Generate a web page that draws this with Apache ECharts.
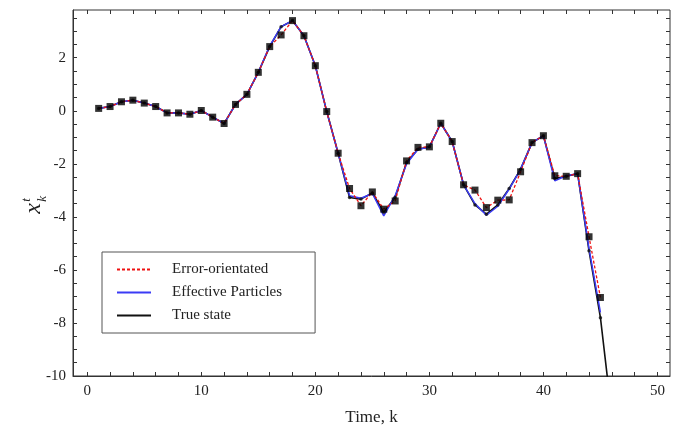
<!DOCTYPE html>
<html>
<head>
<meta charset="utf-8">
<script src="https://cdn.jsdelivr.net/npm/echarts@6/dist/echarts.min.js"></script>
<style>
html,body{margin:0;padding:0;background:#fff;}
#chart{width:680px;height:431px;}
</style>
</head>
<body>
<div id="chart"></div>
<script>
// time steps
var kValues = [1,2,3,4,5,6,7,8,9,10,11,12,13,14,15,16,17,18,19,20,21,22,23,24,25,26,27,28,29,30,31,32,33,34,35,36,37,38,39,40,41,42,43,44,45,46];

var errorOriented = [0.09,0.16,0.34,0.40,0.29,0.16,-0.08,-0.08,-0.13,0.01,-0.24,-0.48,0.24,0.62,1.45,2.42,2.86,3.40,2.83,1.70,-0.03,-1.60,-2.93,-3.58,-3.06,-3.71,-3.40,-1.89,-1.38,-1.36,-0.47,-1.16,-2.79,-2.99,-3.65,-3.37,-3.36,-2.30,-1.20,-0.94,-2.45,-2.47,-2.37,-4.75,-7.04];
var effectiveParticles = [0.09,0.16,0.34,0.40,0.29,0.16,-0.08,-0.08,-0.13,0.01,-0.24,-0.48,0.24,0.62,1.45,2.45,3.17,3.40,2.83,1.70,-0.03,-1.60,-3.20,-3.30,-3.12,-3.96,-3.20,-2.00,-1.45,-1.38,-0.47,-1.16,-2.79,-3.50,-3.94,-3.60,-2.95,-2.20,-1.20,-0.94,-2.64,-2.45,-2.37,-5.20,-7.60];
var trueState = [0.09,0.16,0.34,0.40,0.29,0.16,-0.08,-0.08,-0.13,0.01,-0.24,-0.48,0.24,0.62,1.45,2.42,3.17,3.40,2.83,1.70,-0.03,-1.60,-3.27,-3.33,-3.10,-3.83,-3.26,-1.95,-1.45,-1.36,-0.47,-1.16,-2.79,-3.55,-3.90,-3.55,-2.93,-2.20,-1.20,-0.94,-2.55,-2.47,-2.37,-5.28,-7.80,-11.5];

var xLabels = [0,10,20,30,40,50];
var xMinorTicks = [0,2,4,6,8,10,12,14,16,18,20,22,24,26,28,30,32,34,36,38,40,42,44,46,48,50];
var yLabels = [-10,-8,-6,-4,-2,0,2];
var yMinorTicks = [-10,-9.5,-9,-8.5,-8,-7.5,-7,-6.5,-6,-5.5,-5,-4.5,-4,-3.5,-3,-2.5,-2,-1.5,-1,-0.5,0,0.5,1,1.5,2,2.5,3,3.5];

function pairs(ys){
    var out=[];
    for(var i=0;i<ys.length;i++){
        out.push([kValues[i], ys[i]]);
    }
    return out;
}

var chart = echarts.init(document.getElementById('chart'));
var serif = '"Liberation Serif", "DejaVu Serif", serif';

var option = {
    animation:false,
    backgroundColor:'#fff',
    grid:{
        left:73, right:10, top:10, bottom:54,
        show:true, borderColor:'#333', borderWidth:1
    },
    legend:{
        data:['Error-orientated','Effective Particles','True state'],
        orient:'vertical',
        left:102, top:252,
        itemWidth:34, itemHeight:10, itemGap:8,
        padding:[10,33,10,14],
        borderColor:'#555', borderWidth:1,
        backgroundColor:'#fff',
        itemStyle:{color:'rgba(0,0,0,0)', borderWidth:0, opacity:0},
        textStyle:{fontFamily:serif, fontSize:15, color:'#222', padding:[0,0,0,16]}
    },
    xAxis:[
        {
            type:'value', min:-1.25, max:51.1,
            name:'Time, k', nameLocation:'middle', nameGap:33,
            nameTextStyle:{fontFamily:serif, fontSize:17, color:'#222'},
            axisLine:{show:true, onZero:false, lineStyle:{color:'#333'}},
            axisTick:{show:true, inside:true, length:4, customValues:xMinorTicks, lineStyle:{color:'#333'}},
            axisLabel:{customValues:xLabels, fontFamily:serif, fontSize:15, color:'#222', margin:8},
            splitLine:{show:false}
        },
        {
            type:'value', min:-1.25, max:51.1, position:'top',
            axisLine:{show:false, onZero:false},
            axisTick:{show:true, inside:true, length:4, customValues:xMinorTicks, lineStyle:{color:'#333'}},
            axisLabel:{show:false},
            splitLine:{show:false}
        }
    ],
    yAxis:[
        {
            type:'value', min:-10, max:3.8,
            axisLine:{show:true, onZero:false, lineStyle:{color:'#333'}},
            axisTick:{show:true, inside:true, length:4, customValues:yMinorTicks, lineStyle:{color:'#333'}},
            axisLabel:{customValues:yLabels, fontFamily:serif, fontSize:15, color:'#222', margin:7},
            splitLine:{show:false}
        },
        {
            type:'value', min:-10, max:3.8, position:'right',
            axisLine:{show:false, onZero:false},
            axisTick:{show:true, inside:true, length:4, customValues:yMinorTicks, lineStyle:{color:'#333'}},
            axisLabel:{show:false},
            splitLine:{show:false}
        }
    ],
    graphic:[
        {
            type:'group', left:20, top:196, rotation:Math.PI/2, originX:0, originY:0,
            children:[
                {type:'text', x:0, y:0, style:{text:'x', fontFamily:serif, fontStyle:'italic', fontSize:24, fill:'#222'}},
                {type:'text', x:12, y:-2, style:{text:'t', fontFamily:serif, fontStyle:'italic', fontSize:13, fill:'#222'}},
                {type:'text', x:12, y:14, style:{text:'k', fontFamily:serif, fontStyle:'italic', fontSize:13, fill:'#222'}}
            ]
        }
    ],
    series:[
        {
            name:'True state', type:'line', data:pairs(trueState),
            symbol:'none', color:'#111',
            lineStyle:{color:'#111', width:1.6}, z:2
        },
        {
            name:'Effective Particles', type:'line', data:pairs(effectiveParticles),
            symbol:'none', color:'#3b3bf5',
            lineStyle:{color:'#3b3bf5', width:1.5}, z:3
        },
        {
            name:'Error-orientated', type:'line', data:pairs(errorOriented),
            symbol:'none', color:'#ee1111',
            lineStyle:{color:'#ee1111', width:1.3, type:[3,2]}, z:4
        },
        {
            type:'scatter', data:pairs(trueState.slice(0,45)),
            symbol:'circle', symbolSize:3.5,
            itemStyle:{color:'#111'}, z:5
        },
        {
            type:'scatter', data:pairs(errorOriented),
            symbol:'rect', symbolSize:7,
            itemStyle:{color:'#000'}, z:6
        }
    ]
};

chart.setOption(option);
</script>
</body>
</html>
